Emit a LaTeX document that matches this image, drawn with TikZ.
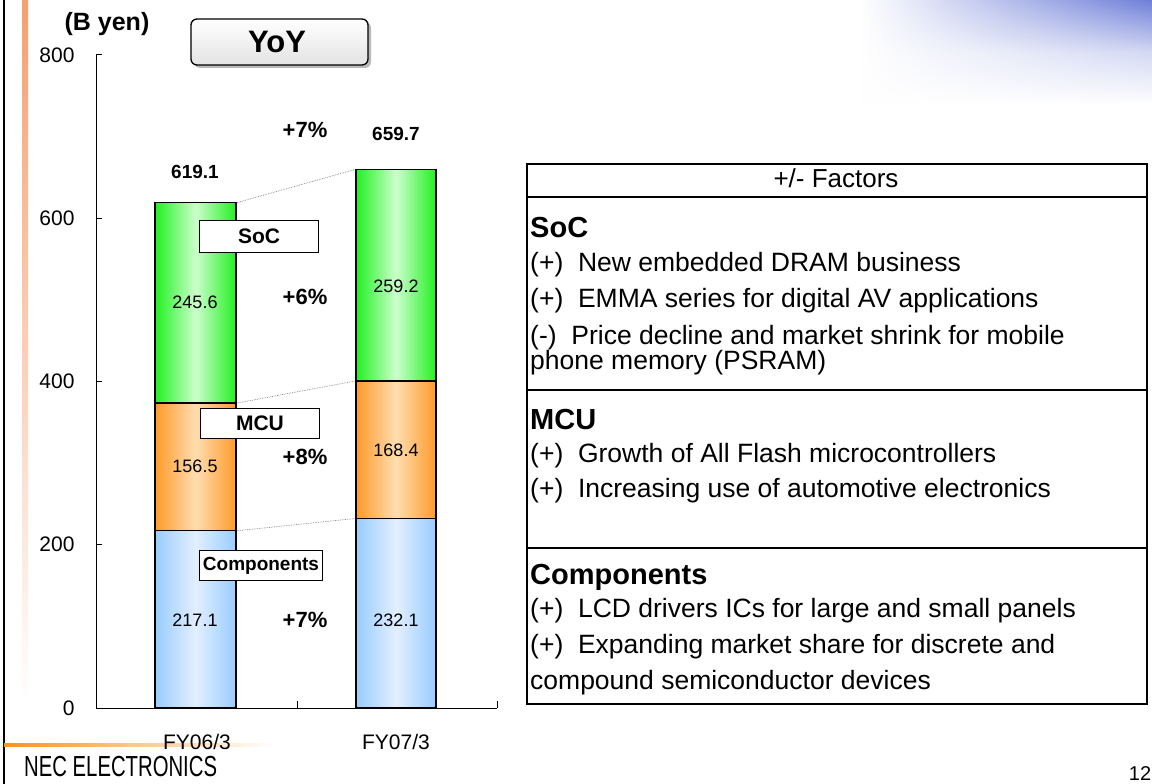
\documentclass[tikz,border=0pt]{standalone}
\usepackage{fontspec}
\setmainfont{Liberation Sans}
\usepackage{graphicx}
\usepackage{xcolor}
\usetikzlibrary{fadings}
\definecolor{socedge}{HTML}{22F022}
\definecolor{socmid}{HTML}{CCFFCC}
\definecolor{mcuedge}{HTML}{FF9A2A}
\definecolor{mcumid}{HTML}{FFDDB0}
\definecolor{compedge}{HTML}{99CCFF}
\definecolor{compmid}{HTML}{E2EFFF}
\definecolor{bandorange}{HTML}{F5A070}
\definecolor{lineorange}{HTML}{F7941D}
\definecolor{cornerblue}{HTML}{6E7FD8}
\newcommand{\pxfont}[1]{\fontsize{#1}{#1}\selectfont}
\tikzfading[name=cornerfade, top color=transparent!0, bottom color=transparent!100, middle color=transparent!70]

\begin{document}
\begin{tikzpicture}[x=1pt, y=1pt,
  barbox/.style={draw=black, line width=1.2pt},
  link/.style={densely dotted, gray, line width=.7pt},
  valtext/.style={font=\pxfont{18}},
  pcttext/.style={font=\pxfont{22}\bfseries},
  tottext/.style={font=\pxfont{19}\bfseries},
  axtext/.style={font=\pxfont{21}, anchor=east},
  catbox/.style={draw, fill=white, line width=1pt, minimum width=119pt, minimum height=32pt, inner sep=1pt, font=\pxfont{21}\bfseries},
  headtext/.style={anchor=base west, inner sep=0pt, font=\pxfont{29}\bfseries},
  bodytext/.style={anchor=base west, inner sep=0pt, font=\pxfont{26.5}}]
\useasboundingbox (0,0) rectangle (1152,784);
\fill[white] (0,0) rectangle (1152,784);

% page frame
\shade[left color=white, right color=cornerblue, path fading=cornerfade] (860,680) rectangle (1152,784);
\shade[top color=bandorange, bottom color=white] (22,784) rectangle (28,80);
\draw[line width=1.3pt] (4,0) -- (4,784);
\shade[left color=lineorange, right color=white] (4,37.5) rectangle (275,40.5);
\node[anchor=west, inner sep=0pt] (brand) at (24,17) {\pxfont{29}\scalebox{.70}[1]{NEC ELECTRONICS}};
\node[font=\pxfont{20}] (pageno) at (1140,10) {12};

% title
\node[font=\pxfont{25}\bfseries] (unit) at (107,760) {(B yen)};
\fill[gray!55, rounded corners=6pt] (194,716) rectangle (371,762);
\shade[draw=black, line width=1.3pt, rounded corners=6pt, top color=white, bottom color=gray!22] (191,719) rectangle (368,765);
\node[font=\pxfont{31}\bfseries] (yoy) at (277,742) {YoY};

% chart
\begin{scope}[shift={(0,76)}, y=0.8163pt]
  \draw[line width=.9pt] (96,0) -- (96,800);
  \draw[line width=.9pt] (96,0) -- (497,0);
  \foreach \v in {0,200,400,600,800}
    \draw[line width=.9pt] (96,\v) -- (102,\v);
  \foreach \v in {0,200,400,600,800}
    \node[axtext] (tick\v) at (78,\v) {\v};
  \foreach \x in {297,497}
    \draw[line width=.9pt] (\x,0) -- (\x,8);

  % FY06/3
  \path[barbox, left color=compedge, right color=compedge, middle color=compmid] (155,0) rectangle (236,217.1);
  \path[barbox, left color=mcuedge, right color=mcuedge, middle color=mcumid] (155,217.1) rectangle (236,373.6);
  \path[barbox, left color=socedge, right color=socedge, middle color=socmid] (155,373.6) rectangle (236,619.1);
  % FY07/3
  \path[barbox, left color=compedge, right color=compedge, middle color=compmid] (356,0) rectangle (436,232.1);
  \path[barbox, left color=mcuedge, right color=mcuedge, middle color=mcumid] (356,232.1) rectangle (436,400.5);
  \path[barbox, left color=socedge, right color=socedge, middle color=socmid] (356,400.5) rectangle (436,659.7);

  \coordinate (acomp) at (237,217.1);
  \coordinate (amcu) at (237,373.6);
  \coordinate (asoc) at (237,619.1);
  \coordinate (bcomp) at (355,232.1);
  \coordinate (bmcu) at (355,400.5);
  \coordinate (bsoc) at (355,659.7);
  \draw[link] (acomp) -- (bcomp);
  \draw[link] (amcu) -- (bmcu);
  \draw[link] (asoc) -- (bsoc);

  \node[valtext] (va1) at (195,497) {245.6};
  \node[valtext] (va2) at (195,296) {156.5};
  \node[valtext] (va3) at (195,108) {217.1};
  \node[valtext] (vb1) at (396,516) {259.2};
  \node[valtext] (vb2) at (396,316) {168.4};
  \node[valtext] (vb3) at (396,108) {232.1};
  \node[tottext] (tota) at (195,657) {619.1};
  \node[tottext] (totb) at (396,703) {659.7};
  \node[pcttext] (pcttot) at (305,708) {+7\%};
  \node[pcttext] (pctsoc) at (305,503) {+6\%};
  \node[pcttext] (pctmcu) at (305,307) {+8\%};
  \node[pcttext] (pctcomp) at (305,108) {+7\%};

  \node[catbox] (catsoc) at (259,578) {SoC};
  \node[catbox, minimum height=30pt] (catmcu) at (260,349) {MCU};
  \node[catbox, minimum width=123pt, minimum height=30pt, font=\pxfont{19}\bfseries] (catcomp) at (261,174) {Components};

  \node[font=\pxfont{21}] (fya) at (197,-42) {FY06/3};
  \node[font=\pxfont{21}] (fyb) at (396,-42) {FY07/3};
\end{scope}

% factors table
\draw[line width=2.2pt] (527,80) rectangle (1147,620);
\draw[line width=1.2pt] (527,587) -- (1147,587);
\draw[line width=1.2pt] (527,394) -- (1147,394);
\draw[line width=1.2pt] (527,236) -- (1147,236);
\node[anchor=base, inner sep=0pt, font=\pxfont{26}] (facthead) at (836,596) {+/- Factors};
\node[headtext] (sochead) at (530,546) {SoC};
\node[bodytext] (soc1) at (530,512) {(+)\ \ New embedded DRAM business};
\node[bodytext] (soc2) at (530,476) {(+)\ \ EMMA series for digital AV applications};
\node[bodytext] (soc3) at (530,439) {(-)\ \ Price decline and market shrink for mobile};
\node[bodytext] (soc4) at (530,414) {phone memory (PSRAM)};
\node[headtext] (mcuhead) at (530,354) {MCU};
\node[bodytext] (mcu1) at (530,321) {(+)\ \ Growth of All Flash microcontrollers};
\node[bodytext] (mcu2) at (530,286) {(+)\ \ Increasing use of automotive electronics};
\node[headtext] (comphead) at (530,199) {Components};
\node[bodytext] (comp1) at (530,166) {(+)\ \ LCD drivers ICs for large and small panels};
\node[bodytext] (comp2) at (530,130) {(+)\ \ Expanding market share for discrete and};
\node[bodytext] (comp3) at (530,94) {compound semiconductor devices};
\end{tikzpicture}
\end{document}
